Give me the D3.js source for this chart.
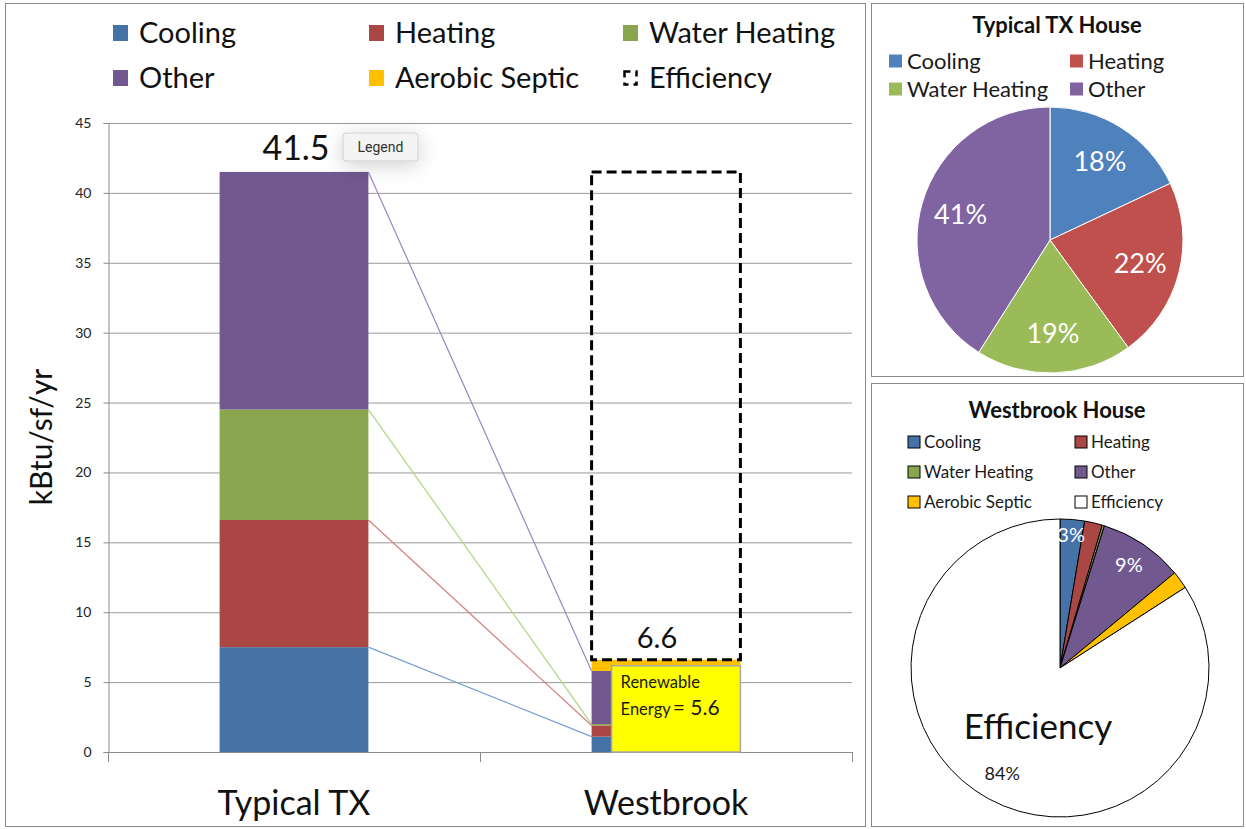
<!DOCTYPE html>
<html>
<head>
<meta charset="utf-8">
<script src="https://cdn.jsdelivr.net/npm/d3@7"></script>
<style>
  html, body { margin: 0; padding: 0; background: #fff; }
  svg { display: block; font-family: Lato, "Open Sans", sans-serif; }
</style>
</head>
<body>
<svg id="chart" width="1246" height="829"></svg>
<script>
// ---- data ----
const houses = ["Typical TX", "Westbrook"];
const endUses = ["Cooling", "Heating", "Water Heating", "Other", "Aerobic Septic"];
const typicalValues = [7.5, 9.1, 7.9, 17.0, 0];        // kBtu/sf/yr
const westbrookValues = [1.1, 0.8, 0.1, 3.8, 0.8];     // kBtu/sf/yr
const efficiencyValue = 34.9;                          // saved vs typical
const totalLabels = ["41.5", "6.6"];
const renewableEnergy = 5.6;
const yTicks = [0, 5, 10, 15, 20, 25, 30, 35, 40, 45];

const typicalPieLabels = ["Cooling", "Heating", "Water Heating", "Other"];
const typicalPiePct = [18, 22, 19, 41];
const westbrookPieLabels = ["Cooling", "Heating", "Water Heating", "Other", "Aerobic Septic", "Efficiency"];
const westbrookPieValues = [1.1, 0.8, 0.1, 3.8, 0.8, 34.9];

// ---- colours ----
const barColors = ["#4572a7", "#aa4643", "#89a54e", "#71588f", "#ffc000"];
const lineColors = ["#7a9fd2", "#d2807d", "#aed57f", "#9b84c6"];
const pieColors = ["#4f81bd", "#c0504d", "#9bbb59", "#8064a2"];
const westPieColors = ["#4572a7", "#aa4643", "#89a54e", "#71588f", "#ffc000", "#ffffff"];

const svg = d3.select("#chart");

const defs = svg.append("defs");
const glow = defs.append("filter").attr("id", "glow")
    .attr("x", "-60%").attr("y", "-100%").attr("width", "220%").attr("height", "300%");
glow.append("feDropShadow").attr("dx", 0).attr("dy", 4)
    .attr("stdDeviation", 10).attr("flood-color", "#000").attr("flood-opacity", 0.18);

// ---- panel frames ----
const panels = [[5, 3, 860, 823], [871, 3, 372, 373], [871, 383, 372, 443]];
svg.selectAll("rect.panel").data(panels).join("rect")
    .attr("class", "panel")
    .attr("x", d => d[0] + 0.5).attr("y", d => d[1] + 0.5)
    .attr("width", d => d[2]).attr("height", d => d[3])
    .attr("fill", "#fff").attr("stroke", "#8a8a8a");

// ---- main stacked bar chart ----
const plot = {left: 108, right: 852, top: 123, bottom: 752};

const x = d3.scaleBand().domain(houses)
    .range([plot.left, plot.right]).paddingInner(0.6).paddingOuter(0.3);
const y = d3.scaleLinear().domain([0, 45]).range([plot.bottom, plot.top]);

// gridlines
svg.append("g")
  .selectAll("line").data(yTicks.slice(1)).join("line")
    .attr("x1", plot.left).attr("x2", plot.right)
    .attr("y1", d => y(d) + 0.5).attr("y2", d => y(d) + 0.5)
    .attr("stroke", "#9a9a9a");

// y axis
const yAxis = svg.append("g")
    .attr("transform", `translate(${plot.left + 0.5},0)`)
    .call(d3.axisLeft(y).tickValues(yTicks).tickSize(5).tickPadding(12));
yAxis.select(".domain").attr("stroke", "#8a8a8a");
yAxis.selectAll(".tick line").attr("stroke", "#8a8a8a");
yAxis.selectAll(".tick text").attr("font-family", "Lato").attr("font-size", 14).attr("fill", "#222");

// x axis
const xEdges = [plot.left, plot.left + x.step(), plot.right];
svg.append("line").attr("x1", plot.left).attr("x2", plot.right)
    .attr("y1", plot.bottom + 0.5).attr("y2", plot.bottom + 0.5).attr("stroke", "#8a8a8a");
svg.append("g").selectAll("line").data(xEdges).join("line")
    .attr("x1", d => d + 0.5).attr("x2", d => d + 0.5)
    .attr("y1", plot.bottom).attr("y2", plot.bottom + 10).attr("stroke", "#8a8a8a");

svg.append("g").selectAll("text").data(houses).join("text")
    .attr("x", d => x(d) + x.bandwidth() / 2)
    .attr("y", 815)
    .attr("text-anchor", "middle")
    .attr("font-size", 34).attr("fill", "#111")
    .text(d => d);

svg.append("text")
    .attr("transform", "translate(52,437) rotate(-90)")
    .attr("text-anchor", "middle")
    .attr("font-size", 30).attr("fill", "#111")
    .text("kBtu/sf/yr");

// stack helper
function stackSegments(values) {
  let acc = 0;
  return values.map((v, i) => {
    const seg = {i, y0: acc, y1: acc + v};
    acc += v;
    return seg;
  });
}
const typSegs = stackSegments(typicalValues);
const wesSegs = stackSegments(westbrookValues);

const xT = x("Typical TX"), xW = x("Westbrook"), bw = x.bandwidth();

svg.append("g").selectAll("rect").data(typSegs.filter(s => s.y1 > s.y0)).join("rect")
    .attr("x", xT).attr("width", bw)
    .attr("y", d => y(d.y1)).attr("height", d => y(d.y0) - y(d.y1))
    .attr("fill", d => barColors[d.i]);

// series lines between the bars
svg.append("g").selectAll("line").data(typSegs.slice(0, 4)).join("line")
    .attr("x1", xT + bw).attr("y1", d => y(d.y1))
    .attr("x2", xW).attr("y2", d => y(wesSegs[d.i].y1))
    .attr("stroke", d => lineColors[d.i]).attr("stroke-width", 1.2);

svg.append("g").selectAll("rect").data(wesSegs).join("rect")
    .attr("x", xW).attr("width", bw)
    .attr("y", d => y(d.y1)).attr("height", d => y(d.y0) - y(d.y1))
    .attr("fill", d => barColors[d.i]);

const wesTotal = d3.sum(westbrookValues);
const typTotal = d3.sum(typicalValues);

// renewable energy callout
const boxTop = y(wesTotal) + 6;
svg.append("rect")
    .attr("x", xW + 20).attr("y", boxTop)
    .attr("width", bw - 20).attr("height", y(0) - boxTop)
    .attr("fill", "#ffff00").attr("stroke", "#a8a8a8").attr("stroke-width", 1.5);
const rt = svg.append("text").attr("fill", "#1a1a1a").attr("font-size", 16.5);
rt.append("tspan").attr("x", xW + 29).attr("y", boxTop + 22).text("Renewable");
const rt2 = svg.append("text").attr("fill", "#1a1a1a").attr("x", xW + 29).attr("y", boxTop + 49);
rt2.append("tspan").attr("font-size", 16.5).text("Energy");
rt2.append("tspan").attr("font-size", 21).attr("dx", 2).text("= " + renewableEnergy.toFixed(1));

// efficiency dashed box
svg.append("rect")
    .attr("x", xW).attr("y", y(wesTotal + efficiencyValue))
    .attr("width", bw).attr("height", y(wesTotal) - y(wesTotal + efficiencyValue))
    .attr("fill", "none").attr("stroke", "#000")
    .attr("stroke-width", 3).attr("stroke-dasharray", "10,5");

// totals
svg.append("text").attr("x", xT + bw / 2 + 2).attr("y", y(typTotal) - 12)
    .attr("text-anchor", "middle").attr("font-size", 34).attr("fill", "#111")
    .text(totalLabels[0]);
svg.append("text").attr("x", xW + bw / 2 - 9).attr("y", y(wesTotal) - 12)
    .attr("text-anchor", "middle").attr("font-size", 29).attr("fill", "#111")
    .text(totalLabels[1]);

// "Legend" hover tooltip
const tip = svg.append("g").attr("transform", "translate(343,133)");
tip.append("rect").attr("width", 75).attr("height", 28).attr("rx", 3)
    .attr("fill", "#f4f4f4").attr("stroke", "#cfcfcf").attr("filter", "url(#glow)");
tip.append("text").attr("x", 37.5).attr("y", 19).attr("text-anchor", "middle")
    .attr("font-family", "Roboto").attr("font-size", 14).attr("fill", "#333").text("Legend");

// main legend
const legendItems = endUses.concat(["Efficiency"]);
const leg = svg.append("g").selectAll("g").data(legendItems).join("g")
    .attr("transform", (d, i) => `translate(${[113, 369, 623][i % 3]},${[33, 78][Math.floor(i / 3)]})`);
leg.filter(d => d !== "Efficiency").append("rect")
    .attr("x", 0).attr("y", -8).attr("width", 15).attr("height", 16)
    .attr("fill", (d, i) => barColors[endUses.indexOf(d)]);
leg.filter(d => d === "Efficiency").append("rect")
    .attr("x", 1.5).attr("y", -6.5).attr("width", 12).attr("height", 13)
    .attr("fill", "none").attr("stroke", "#000").attr("stroke-width", 2.5)
    .attr("stroke-dasharray", "6,5");
leg.append("text").attr("x", 26).attr("y", 10)
    .attr("font-size", 29).attr("fill", "#111").text(d => d);

// ---- Typical TX pie ----
function pieLegend(g, labels, colors, opts) {
  const item = g.selectAll("g").data(labels).join("g")
      .attr("transform", (d, i) => `translate(${opts.cols[i % 2]},${opts.rows[Math.floor(i / 2)]})`);
  item.append("rect").attr("x", 0).attr("y", -opts.box / 2)
      .attr("width", opts.box).attr("height", opts.box)
      .attr("fill", (d, i) => colors[i])
      .attr("stroke", opts.stroke || "none").attr("stroke-width", 1);
  item.append("text").attr("x", opts.box + opts.gap).attr("y", opts.fs * 0.36)
      .attr("font-size", opts.fs).attr("fill", "#1a1a1a").text(d => d);
}

const p1 = {cx: 1050, cy: 240, r: 133};
svg.append("text").attr("x", 1057).attr("y", 33).attr("text-anchor", "middle")
    .attr("font-size", 22).attr("font-weight", "bold").attr("fill", "#111")
    .text("Typical TX House");
pieLegend(svg.append("g"), typicalPieLabels, pieColors,
    {cols: [889, 1070], rows: [61, 89], box: 13, gap: 5, fs: 22});

const pie = d3.pie().sort(null).value(d => d);
const arc1 = d3.arc().innerRadius(0).outerRadius(p1.r);
const lab1 = d3.arc().innerRadius(p1.r * 0.7).outerRadius(p1.r * 0.7);
const g1 = svg.append("g").attr("transform", `translate(${p1.cx},${p1.cy})`);
g1.selectAll("path").data(pie(typicalPiePct)).join("path")
    .attr("d", arc1).attr("fill", (d, i) => pieColors[i])
    .attr("stroke", "#fff").attr("stroke-width", 1);
g1.selectAll("text").data(pie(typicalPiePct)).join("text")
    .attr("transform", d => `translate(${lab1.centroid(d)})`)
    .attr("text-anchor", "middle").attr("dy", "0.36em")
    .attr("font-size", 27).attr("fill", "#fff")
    .text(d => d.data + "%");

// ---- Westbrook pie ----
const p2 = {cx: 1060, cy: 668, r: 149};
svg.append("text").attr("x", 1057).attr("y", 418).attr("text-anchor", "middle")
    .attr("font-size", 22).attr("font-weight", "bold").attr("fill", "#111")
    .text("Westbrook House");
pieLegend(svg.append("g"), westbrookPieLabels, westPieColors,
    {cols: [908, 1075], rows: [442, 472, 502], box: 12, gap: 4, fs: 17, stroke: "#000"});

const westTotal = d3.sum(westbrookPieValues);
const arc2 = d3.arc().innerRadius(0).outerRadius(p2.r);
const g2 = svg.append("g").attr("transform", `translate(${p2.cx},${p2.cy})`);
const wArcs = pie(westbrookPieValues);
g2.selectAll("path").data(wArcs).join("path")
    .attr("d", arc2).attr("fill", (d, i) => westPieColors[i])
    .attr("stroke", "#000").attr("stroke-width", 1);

const pct = v => Math.round(v / westTotal * 100) + "%";
const labR = [0.9, null, null, 0.83, null, 0.81];
g2.selectAll("text.pct").data(wArcs.filter((d, i) => labR[i])).join("text")
    .attr("class", "pct")
    .attr("transform", d => {
      const rr = p2.r * labR[d.index];
      return `translate(${d3.arc().innerRadius(rr).outerRadius(rr).centroid(d)})`;
    })
    .attr("text-anchor", "middle").attr("dy", "0.36em")
    .attr("font-size", d => d.index === 5 ? 18 : 20)
    .attr("fill", d => d.index === 5 ? "#1a1a1a" : "#fff")
    .text(d => pct(d.data));
g2.append("text").attr("x", -22).attr("y", 71).attr("text-anchor", "middle")
    .attr("font-size", 35).attr("fill", "#111").text("Efficiency");
</script>
</body>
</html>
